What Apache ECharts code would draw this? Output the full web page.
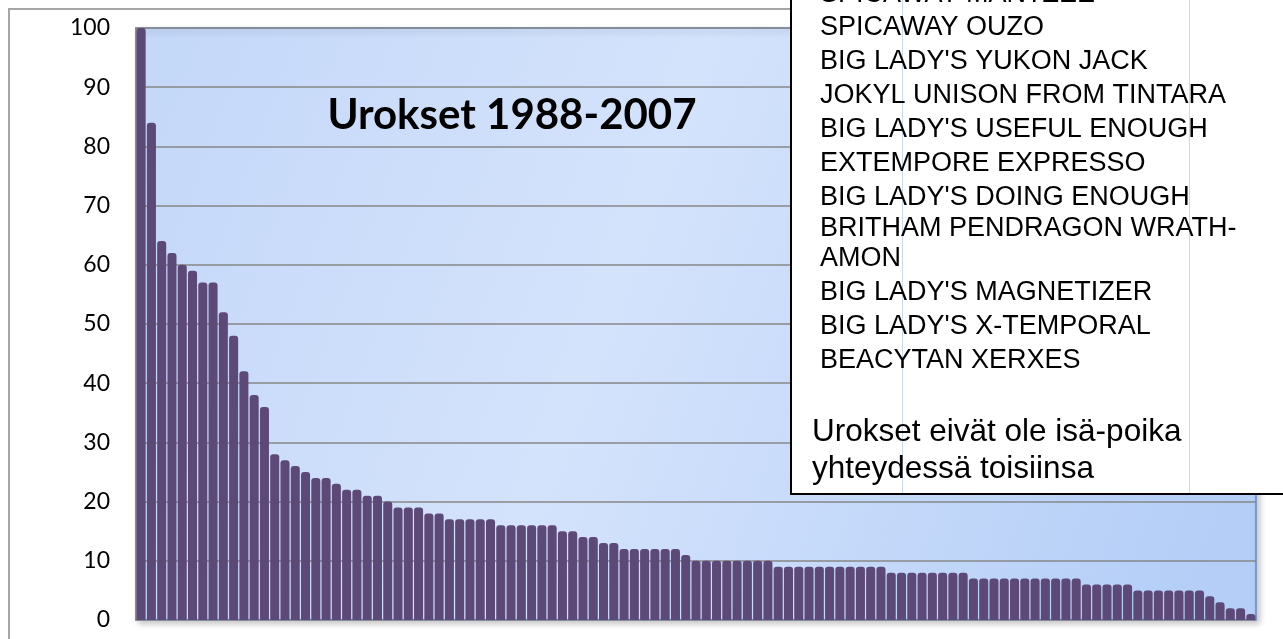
<!DOCTYPE html>
<html>
<head>
<meta charset="utf-8">
<script src="https://cdn.jsdelivr.net/npm/echarts@6/dist/echarts.min.js"></script>
<style>
  html, body { margin: 0; padding: 0; background: #fff; }
  #chart { width: 1283px; height: 639px; }
</style>
</head>
<body>
<div id="chart"></div>
<script>
// jälkeläisten määrä per uros, suurimmasta pienimpään
const values = [
  100, 84, 64, 62, 60, 59, 57, 57, 52, 48,
  42, 38, 36, 28, 27, 26, 25, 24, 24, 23,
  22, 22, 21, 21, 20, 19, 19, 19, 18, 18,
  17, 17, 17, 17, 17, 16, 16, 16, 16, 16,
  16, 15, 15, 14, 14, 13, 13, 12, 12, 12,
  12, 12, 12, 11, 10, 10, 10, 10, 10, 10,
  10, 10, 9, 9, 9, 9, 9, 9, 9, 9,
  9, 9, 9, 8, 8, 8, 8, 8, 8, 8,
  8, 7, 7, 7, 7, 7, 7, 7, 7, 7,
  7, 7, 6, 6, 6, 6, 6, 5, 5, 5,
  5, 5, 5, 5, 4, 3, 2, 2, 1
];
const categories = values.map((v, i) => String(i + 1));
const yTicks = [0, 10, 20, 30, 40, 50, 60, 70, 80, 90, 100];

const chartTitle = 'Urokset 1988-2007';
const topMales = [
  'SPICAWAY MANTZEE',
  'SPICAWAY OUZO',
  "BIG LADY'S YUKON JACK",
  'JOKYL UNISON FROM TINTARA',
  "BIG LADY'S USEFUL ENOUGH",
  'EXTEMPORE EXPRESSO',
  "BIG LADY'S DOING ENOUGH",
  'BRITHAM PENDRAGON WRATH-',
  'AMON',
  "BIG LADY'S MAGNETIZER",
  "BIG LADY'S X-TEMPORAL",
  'BEACYTAN XERXES'
];
const noteLines = ['Urokset eivät ole isä-poika', 'yhteydessä toisiinsa'];

// rivien pystykeskikohdat tekstilaatikossa
const listY = [-5, 28, 62, 96, 130, 164, 198, 229, 259, 293, 327, 361];
const noteY = [432, 469];

let myChart = echarts.init(document.getElementById('chart'));

let graphics = [
  {
    type: 'rect', z: 1, silent: true,
    shape: { x: 9, y: 9, width: 1400, height: 800 },
    style: { fill: 'none', stroke: '#a6a6a6', lineWidth: 2 }
  },
  {
    type: 'rect', z: 100, silent: true,
    shape: { x: 791, y: -20, width: 600, height: 514 },
    style: { fill: '#fff', stroke: '#000', lineWidth: 2 }
  },
  {
    type: 'line', z: 101, silent: true,
    shape: { x1: 902.5, y1: 0, x2: 902.5, y2: 493 },
    style: { stroke: '#c9d8f6', lineWidth: 1 }
  },
  {
    type: 'line', z: 101, silent: true,
    shape: { x1: 1189.5, y1: 0, x2: 1189.5, y2: 493 },
    style: { stroke: '#c9d8f6', lineWidth: 1 }
  }
];
for (let i = 0; i < topMales.length; i++) {
  graphics.push({
    type: 'text', z: 102, silent: true,
    x: 820, y: listY[i],
    style: {
      text: topMales[i], fill: '#000',
      font: '27px "Liberation Sans", Arial, sans-serif',
      textAlign: 'left', textVerticalAlign: 'middle'
    }
  });
}
for (let i = 0; i < noteLines.length; i++) {
  graphics.push({
    type: 'text', z: 102, silent: true,
    x: 812, y: noteY[i],
    style: {
      text: noteLines[i], fill: '#000',
      font: '31.5px "Liberation Sans", Arial, sans-serif',
      textAlign: 'left', textVerticalAlign: 'middle'
    }
  });
}

let option = {
  animation: false,
  backgroundColor: '#fff',
  title: {
    text: chartTitle,
    left: 512,
    top: 94,
    textAlign: 'center',
    padding: 0,
    textStyle: { fontFamily: 'Lato', fontWeight: 'bold', fontSize: 42, color: '#000' }
  },
  grid: {
    show: true,
    left: 136, right: 27, top: 28, bottom: 19,
    backgroundColor: new echarts.graphic.LinearGradient(0, 0, 1, 0.7, [
      { offset: 0, color: '#c3d7f8' },
      { offset: 0.45, color: '#d4e3fc' },
      { offset: 1, color: '#b4cef7' }
    ]),
    borderColor: '#5b8bd0',
    borderWidth: 1.5,
    shadowColor: 'rgba(0,0,0,0.22)',
    shadowBlur: 6,
    shadowOffsetX: 3,
    shadowOffsetY: 3
  },
  xAxis: {
    type: 'category',
    data: categories,
    axisLine: { show: false },
    axisTick: { show: false },
    axisLabel: { show: false }
  },
  yAxis: {
    type: 'value',
    min: yTicks[0],
    max: yTicks[yTicks.length - 1],
    interval: 10,
    axisLine: { show: true, lineStyle: { color: '#8c8c8c', width: 2 } },
    axisTick: { show: false },
    axisLabel: { margin: 26, color: '#000', fontFamily: 'Lato', fontSize: 23 },
    splitLine: { lineStyle: { color: '#878787', width: 1.5 } }
  },
  series: [{
    type: 'bar',
    data: values,
    barCategoryGap: '12%',
    itemStyle: { color: '#5d4978', borderRadius: [3, 3, 0, 0] }
  }],
  graphic: graphics
};

myChart.setOption(option);
window.addEventListener('resize', function () {
  myChart.resize();
});
</script>
</body>
</html>
